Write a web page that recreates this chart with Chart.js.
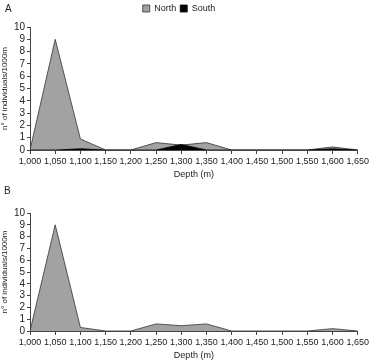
<!DOCTYPE html>
<html>
<head>
<meta charset="utf-8">
<script src="https://cdn.jsdelivr.net/npm/chart.js@4/dist/chart.umd.min.js"></script>
<style>
  body { margin: 0; background: #fff; font-family: "Liberation Sans", Arial, sans-serif; }
  .panel { position: relative; width: 371px; }
  .tag { position: absolute; font-size: 10px; color: #222; }
</style>
</head>
<body>
<div class="panel" style="height:180px">
  <div class="tag" style="left:5px;top:3px">A</div>
  <canvas id="chartA" width="371" height="180"></canvas>
</div>
<div class="panel" style="height:181px">
  <div class="tag" style="left:4px;top:5px">B</div>
  <canvas id="chartB" width="371" height="181"></canvas>
</div>
<script>
// depth classes (m)
var depths = ['1,000', '1,050', '1,100', '1,150', '1,200', '1,250', '1,300',
  '1,350', '1,400', '1,450', '1,500', '1,550', '1,600', '1,650'];
// panel A
var northA = [0, 9, 0.9, 0, 0, 0.6, 0.4, 0.6, 0, 0, 0, 0, 0.25, 0];
var southA = [0, 0, 0.1, 0, 0, 0, 0.45, 0, 0, 0, 0, 0, 0.1, 0];
// panel B
var totalB = [0, 9, 0.3, 0, 0, 0.6, 0.45, 0.6, 0, 0, 0, 0, 0.2, 0];
var yTicks = [0, 1, 2, 3, 4, 5, 6, 7, 8, 9, 10];

Chart.defaults.font.family = '"Liberation Sans", Arial, sans-serif';
Chart.defaults.color = '#222';
Chart.defaults.animation = false;

// a bit more room under the legend
var legendGap = {
  id: 'legendGap',
  beforeInit: function (chart) {
    if (!chart.legend) return;
    var fit = chart.legend.fit;
    chart.legend.fit = function () {
      fit.call(this);
      this.height += 4;
    };
  }
};

function makeScales() {
  return {
    x: {
      offset: false,
      grid: { display: true, drawOnChartArea: false, color: '#444', tickLength: 4 },
      border: { color: '#444' },
      ticks: { font: { size: 9 }, maxRotation: 0, autoSkip: false, padding: 2 },
      title: { display: true, text: 'Depth (m)', font: { size: 9 }, padding: { top: 2, bottom: 0 } },
      afterFit: function (s) { s.height = 30; }
    },
    y: {
      min: 0, max: 10,
      afterBuildTicks: function (s) { s.ticks = yTicks.map(function (v) { return { value: v }; }); },
      grid: { display: true, drawOnChartArea: false, color: '#444', tickLength: 3 },
      border: { color: '#444' },
      ticks: { font: { size: 10 }, padding: 2, autoSkip: false },
      title: { display: true, text: 'n° of individuals/1000m', font: { size: 8 }, padding: { top: 0, bottom: 1 } },
      afterFit: function (s) { s.width = 30; }
    }
  };
}

new Chart(document.getElementById('chartA'), {
  type: 'line',
  data: {
    labels: depths,
    datasets: [
      { label: 'South', data: southA, fill: 'origin', backgroundColor: '#000',
        borderColor: '#000', borderWidth: 0.8, pointRadius: 0, tension: 0 },
      { label: 'North', data: northA, fill: 'origin', backgroundColor: '#a2a2a2',
        borderColor: '#333', borderWidth: 0.8, pointRadius: 0, tension: 0 }
    ]
  },
  options: {
    responsive: false,
    layout: { padding: { top: 0, right: 13, left: 0, bottom: 0 } },
    plugins: {
      legend: {
        reverse: true,
        labels: { boxWidth: 7, boxHeight: 7, padding: 4, font: { size: 9 }, color: '#222' }
      },
      tooltip: { enabled: false }
    },
    scales: makeScales()
  },
  plugins: [legendGap]
});

new Chart(document.getElementById('chartB'), {
  type: 'line',
  data: {
    labels: depths,
    datasets: [
      { label: 'Total', data: totalB, fill: 'origin', backgroundColor: '#a2a2a2',
        borderColor: '#333', borderWidth: 0.8, pointRadius: 0, tension: 0 }
    ]
  },
  options: {
    responsive: false,
    layout: { padding: { top: 33, right: 13, left: 0, bottom: 0 } },
    plugins: { legend: { display: false }, tooltip: { enabled: false } },
    scales: makeScales()
  }
});
</script>
</body>
</html>
